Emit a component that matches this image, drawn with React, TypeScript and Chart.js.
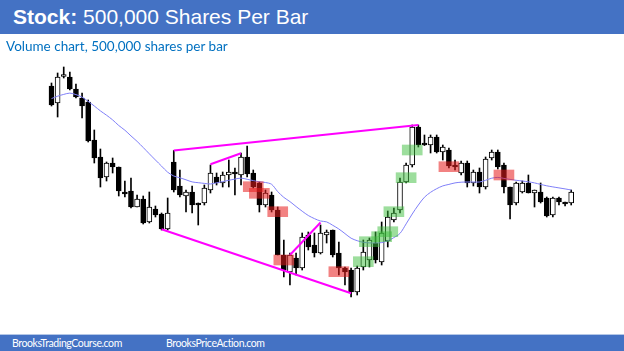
import React, { useEffect, useRef } from "react";
import { Chart, registerables } from "chart.js";

Chart.register(...registerables);

// ---- data (price levels) ----
const opens = [
  265, 248, 274.5, 274, 262, 253, 249, 211, 194, 174,
  188, 184, 159, 160, 144, 152, 129, 142, 137, 122,
  189, 165, 155, 159, 147.5, 148, 161, 174, 168, 176,
  179, 176, 194, 178, 168, 146, 156, 141, 96, 79,
  93, 83, 116, 106, 98, 116, 121, 98, 83, 81,
  59, 84, 91, 108, 89, 110, 131, 141, 169, 186,
  224, 207, 206, 214, 199, 201, 185, 178, 188, 168,
  179, 164, 193, 199, 186, 164, 148, 159, 168, 158,
  159, 153, 136, 153, 148, 148,
];
const highs = [
  268, 278, 284, 279, 267, 258, 251, 221, 202, 189,
  193, 184, 170, 173, 156, 155, 159, 145, 138, 153,
  200.5, 181, 161, 165, 148, 166, 186, 178, 179, 191,
  183, 198, 205, 181, 169, 161, 159, 144, 111, 98,
  98, 118, 119, 118, 126, 121, 121, 109, 84, 83,
  85, 111, 113, 119, 129, 140, 143, 173, 188, 226,
  226, 216, 216, 216, 206, 203, 191, 190, 190, 181,
  183, 194, 201, 201, 188, 164, 169, 170, 176, 161,
  168, 154, 154, 154, 149, 161,
];
const lows = [
  245, 234, 273, 261, 253, 233, 209, 188, 164, 170,
  178, 155, 154, 143, 144, 127, 128, 134, 121, 121,
  159, 154, 139, 138, 126, 146, 158, 166, 164, 164,
  156, 166, 174, 163, 139, 144, 139, 96, 74, 66,
  76, 81, 101, 94, 97, 108, 94, 76, 66, 54,
  56, 81, 84, 88, 86, 104, 129, 138, 168, 184,
  204, 205.5, 198, 198, 191, 183, 181, 176, 164, 165,
  158, 162, 191, 182, 158, 132, 146, 158, 158, 144,
  148, 134, 134, 146, 145, 146,
];
const closes = [
  246, 274, 276.5, 262, 254, 245, 210, 193, 173, 188,
  184, 160, 157, 144, 152, 128, 144, 136, 122, 138,
  161, 156, 159, 146, 146, 163, 178, 168, 176, 179,
  177, 194, 177, 164, 146, 158, 141, 96, 81, 96,
  83, 114, 104, 98, 118, 119, 96, 83, 79, 59,
  83, 99, 111, 91, 118, 134, 138, 169, 186, 224,
  206, 206, 214, 199, 204, 185, 184, 188, 168, 179,
  164, 192, 199, 184, 164, 146, 168, 168, 158, 161,
  149, 135, 153, 149, 147, 159,
];
const movingAverage = [
  252.4, 254.8, 256.6, 257.9, 256.4, 253.9, 249.6, 245, 240.1, 235.8,
  231.1, 225.5, 220.8, 215.1, 209.6, 203.5, 197.2, 191, 184.9, 178.8,
  175, 173.2, 171.2, 169.1, 168.3, 167.6, 167, 168.2, 169.4, 170.7,
  171.9, 172.9, 171.7, 170.4, 169.2, 168.5, 166.7, 159.4, 153.6, 149.4,
  144.5, 139.8, 135.5, 132.4, 130, 129.1, 125.7, 122, 117.4, 112.8,
  110.3, 108.7, 108.1, 108, 108.4, 110.2, 113.4, 117.6, 127.1, 137,
  146, 153.8, 158.7, 162.3, 165.1, 166.6, 168.1, 168.8, 169, 169,
  169, 170.7, 172.8, 173.6, 172.6, 171.6, 170.7, 170, 169.2, 168.1,
  166.6, 165.2, 164.1, 163.1, 162.1, 161,
];

// trend lines: [bar index, price]
const trendTop = [[20, 200.5], [60, 226]];
const trendUpperSmall = [[26, 186.7], [31, 197.7]];
const trendBottom = [[18, 121.7], [49, 57.7]];
const trendLowerSmall = [[39, 96], [44, 128.5]];

// highlight zones: [bar index, low price, high price]
const redZones = [
  [33, 159.3, 169.3], [34, 152.7, 162.7], [37, 134.3, 144.3], [38, 86, 96],
  [47, 74.3, 84.3], [65, 179.3, 189.3], [74, 171, 181],
];
const greenZones = [
  [51, 84.3, 94.3], [52, 104.3, 114.3], [54, 109.3, 119.3], [55, 114.3, 124.3],
  [56, 134.3, 144.3], [58, 168.3, 178.3], [59, 196, 206],
];

const titleBold = "Stock:";
const titleRest = " 500,000 Shares Per Bar";
const subtitle = "Volume chart, 500,000 shares per bar";
const footerLeft = "BrooksTradingCourse.com";
const footerRight = "BrooksPriceAction.com";

const W = 624;
const H = 351;

export default function App() {
  const ref = useRef<HTMLCanvasElement | null>(null);

  useEffect(() => {
    if (!ref.current) return;
    const idx = opens.map((_, i) => i);
    const bodyColors = idx.map((i) => (closes[i] >= opens[i] ? "#ffffff" : "#000000"));
    const line = (pts: number[][], order: number) => ({
      type: "line" as const,
      data: pts.map(([x, y]) => ({ x, y })),
      borderColor: "#ff00ff",
      borderWidth: 2,
      pointRadius: 0,
      fill: false,
      order,
    });
    const chart = new Chart(ref.current, {
      type: "bar",
      data: {
        datasets: [
          {
            type: "bar",
            data: redZones.map(([x, a, b]) => ({ x, y: [a, b] })),
            backgroundColor: "rgba(232,28,28,0.55)",
            borderWidth: 0,
            barThickness: 20,
            grouped: false,
            order: 0,
          } as any,
          {
            type: "bar",
            data: greenZones.map(([x, a, b]) => ({ x, y: [a, b] })),
            backgroundColor: "rgba(60,190,60,0.5)",
            borderWidth: 0,
            barThickness: 20,
            grouped: false,
            order: 0,
          } as any,
          line(trendTop, 1),
          line(trendUpperSmall, 1),
          line(trendBottom, 1),
          line(trendLowerSmall, 1),
          {
            type: "line",
            data: idx.map((i) => ({ x: i, y: movingAverage[i] })),
            borderColor: "#7f7ff8",
            borderWidth: 1,
            pointRadius: 0,
            tension: 0.3,
            fill: false,
            order: 2,
          } as any,
          {
            type: "bar",
            data: idx.map((i) => ({ x: i, y: [opens[i], closes[i]] })),
            backgroundColor: bodyColors,
            borderColor: "#000000",
            borderWidth: 1,
            borderSkipped: false,
            barThickness: 5,
            minBarLength: 2,
            grouped: false,
            order: 3,
          } as any,
          {
            type: "bar",
            data: idx.map((i) => ({ x: i, y: [lows[i], highs[i]] })),
            backgroundColor: "#000000",
            borderWidth: 0,
            barThickness: 1,
            grouped: false,
            order: 4,
          } as any,
        ],
      },
      options: {
        animation: false,
        responsive: false,
        maintainAspectRatio: false,
        layout: { padding: 0 },
        plugins: { legend: { display: false }, tooltip: { enabled: false } },
        scales: {
          x: { type: "linear", display: false, min: -8.423, max: 93.637, offset: false },
          y: { type: "linear", display: false, min: 0, max: H },
        },
      },
    });
    return () => chart.destroy();
  }, []);

  return (
    <div
      style={{
        position: "fixed",
        left: 0,
        top: 0,
        width: W,
        height: H,
        background: "#ffffff",
        overflow: "hidden",
      }}
    >
      <canvas ref={ref} width={W} height={H} style={{ position: "absolute", left: 0, top: 0, width: W, height: H }} />
      <div
        style={{
          position: "absolute",
          left: 0,
          top: 0,
          width: W,
          height: 34,
          background: "#4472c4",
          color: "#ffffff",
          fontFamily: "'Liberation Sans', Arial, sans-serif",
          fontSize: 21,
          lineHeight: "34px",
          paddingLeft: 13,
          boxSizing: "border-box",
          whiteSpace: "pre",
        }}
      >
        <span style={{ fontWeight: "bold" }}>{titleBold}</span>
        <span>{titleRest}</span>
      </div>
      <div
        style={{
          position: "absolute",
          left: 6,
          top: 38,
          color: "#0070c0",
          fontFamily: "Lato, 'Noto Sans', sans-serif",
          fontSize: 13.5,
          lineHeight: "17px",
          whiteSpace: "pre",
        }}
      >
        {subtitle}
      </div>
      <div
        style={{
          position: "absolute",
          left: 0,
          top: 334,
          width: W,
          height: 17,
          background: "#4472c4",
          borderTop: "1px solid #b4c7e7",
          boxSizing: "border-box",
          color: "#ffffff",
          fontFamily: "Lato, 'Noto Sans', sans-serif",
          fontSize: 10.5,
          letterSpacing: "-0.4px",
          lineHeight: "16px",
          whiteSpace: "pre",
        }}
      >
        <span style={{ position: "absolute", left: 12, top: 0 }}>{footerLeft}</span>
        <span style={{ position: "absolute", left: 166, top: 0 }}>{footerRight}</span>
      </div>
    </div>
  );
}
